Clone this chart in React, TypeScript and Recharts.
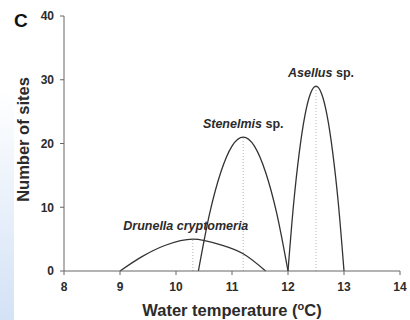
import React from "react"
import { LineChart, Line, XAxis, YAxis, ReferenceLine, ReferenceDot } from "recharts"

// water temperature (°C) vs number of sites
const drunellaTemp = [9, 9.4, 9.8, 10.3, 10.8, 11.2, 11.6]
const drunellaSites = [0, 2.3, 4.0, 5, 4.1, 2.7, 0]

const stenelmisTemp = [10.4, 10.6, 10.8, 11.0, 11.2, 11.4, 11.6, 11.8, 12]
const stenelmisSites = [0, 9, 15.5, 19.6, 21, 19.6, 15.5, 9, 0]

const asellusTemp = [12, 12.1, 12.2, 12.3, 12.4, 12.5, 12.6, 12.7, 12.8, 12.9, 13]
const asellusSites = [0, 10.5, 18.5, 24.3, 27.8, 29, 27.8, 24.3, 18.5, 10.5, 0]

const taxa = ["Drunella cryptomeria", "Stenelmis", "Asellus"]
const taxaSuffix = ["", " sp.", " sp."]
const peakTemps = [10.3, 11.2, 12.5]
const peakSites = [5, 21, 29]

const xTicks = [8, 9, 10, 11, 12, 13, 14]
const yTicks = [0, 10, 20, 30, 40]

const FONT = "'Liberation Sans', Arial, sans-serif"
const INK = "#2b2b2b"

const toRows = (t: number[], n: number[]) => t.map((v, i) => ({ t: v, n: n[i] }))
const series = [
  toRows(drunellaTemp, drunellaSites),
  toRows(stenelmisTemp, stenelmisSites),
  toRows(asellusTemp, asellusSites),
]

function taxonLabel(i: number, dy: number, dx: number) {
  return (props: any) => {
    const vb = props.viewBox || {}
    return (
      <text
        x={vb.x + dx}
        y={vb.y - dy}
        textAnchor="middle"
        fontFamily={FONT}
        fontSize={12.5}
        fontWeight="bold"
        fill={INK}
      >
        <tspan fontStyle="italic">{taxa[i]}</tspan>
        {taxaSuffix[i] && <tspan>{taxaSuffix[i]}</tspan>}
      </text>
    )
  }
}

export default function App() {
  return (
    <div style={{ position: "absolute", left: 0, top: 0, width: 410, height: 320, background: "#fff", overflow: "hidden" }}>
      <div
        style={{
          position: "absolute",
          left: 0,
          top: 90,
          width: 14,
          height: 230,
          background: "linear-gradient(to bottom, rgba(214,228,247,0), #d3e2f6)",
        }}
      />
      <div
        style={{ position: "absolute", left: 14, top: 11, fontFamily: FONT, fontWeight: "bold", fontSize: 19, color: "#111", lineHeight: "20px" }}
      >
        C
      </div>
      <LineChart width={410} height={320} margin={{ top: 16, right: 10, bottom: 0, left: 0 }}>
        <XAxis
          type="number"
          dataKey="t"
          domain={[8, 14]}
          ticks={xTicks}
          allowDuplicatedCategory={false}
          height={49}
          stroke="#666"
          tickSize={4}
          tickMargin={7}
          tick={{ fill: INK, fontFamily: FONT, fontSize: 12, fontWeight: "bold" }}
          label={{
            content: (p: any) => {
              const vb = p.viewBox
              return (
                <text x={vb.x + vb.width / 2 - 0} y={316} textAnchor="middle" fontFamily={FONT} fontSize={16.5} fontWeight="bold" fill={INK}>
                  Water temperature (
                  <tspan fontSize={11} dy={-6}>o</tspan>
                  <tspan dy={6}>C)</tspan>
                </text>
              )
            },
          }}
        />
        <YAxis
          type="number"
          domain={[0, 40]}
          ticks={yTicks}
          width={64}
          stroke="#666"
          tickSize={4}
          tickMargin={6}
          tick={{ fill: INK, fontFamily: FONT, fontSize: 12, fontWeight: "bold" }}
          label={{
            content: (p: any) => {
              const vb = p.viewBox
              const cy = vb.y + vb.height / 2 - 4
              return (
                <text
                  x={29}
                  y={cy}
                  transform={`rotate(-90 29 ${cy})`}
                  textAnchor="middle"
                  fontFamily={FONT}
                  fontSize={16.5}
                  fontWeight="bold"
                  fill={INK}
                >
                  Number of sites
                </text>
              )
            },
          }}
        />
        {peakTemps.map((t, i) => (
          <ReferenceLine
            key={"pk" + i}
            segment={[{ x: t, y: 0 }, { x: t, y: peakSites[i] }]}
            stroke="#b5b5b5"
            strokeDasharray="1 2"
            strokeWidth={1}
          />
        ))}
        {series.map((d, i) => (
          <Line
            key={"s" + i}
            data={d}
            dataKey="n"
            type="monotone"
            stroke="#333"
            strokeWidth={1.3}
            dot={false}
            activeDot={false}
            isAnimationActive={false}
          />
        ))}
        {peakTemps.map((t, i) => (
          <ReferenceDot
            key={"lb" + i}
            x={t}
            y={peakSites[i]}
            r={0}
            stroke="none"
            fill="none"
            label={{ content: taxonLabel(i, i === 0 ? 9 : 9, i === 0 ? -7 : i === 2 ? 5 : 0) }}
          />
        ))}
      </LineChart>
    </div>
  )
}
